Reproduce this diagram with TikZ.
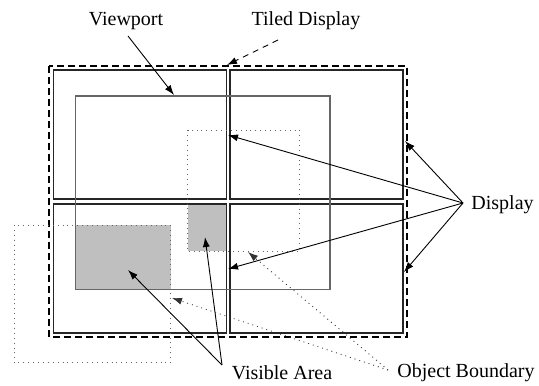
\documentclass[tikz,border=0pt]{standalone}
\usepackage{fontspec}
\setmainfont{Liberation Serif}
\usetikzlibrary{arrows.meta}
\begin{document}
\begin{tikzpicture}[x=0.5pt,y=-0.5pt,
  tile/.style={draw=black!85,line width=0.75pt},
  viewrect/.style={draw=black!60,line width=0.55pt},
  objrect/.style={draw=black!60,line width=0.45pt,dotted},
  visarea/.style={fill=black!25},
  tiled/.style={draw=black,line width=0.7pt,dash pattern=on 3.5pt off 2pt},
  lbl/.style={font=\fontsize{10}{12}\selectfont,inner sep=0pt},
  arr/.style={-{Latex[length=5pt,width=3.5pt]},line width=0.45pt},
  darr/.style={arr,dash pattern=on 3pt off 2.5pt},
  oarr/.style={arr,dotted,draw=black!80}]
\useasboundingbox (0,0) rectangle (539,385);
% shaded visible areas
\fill[visarea] (187.5,204) rectangle (226.5,251);
\fill[visarea] (75.5,225) rectangle (170.5,289.3);
% tiled display outline
\draw[tiled] (49,66) rectangle (407,337);
% displays
\draw[tile] (53.5,70) rectangle (226.5,199);
\draw[tile] (230,70) rectangle (403,199);
\draw[tile] (53.5,204) rectangle (226.5,333);
\draw[tile] (230,204) rectangle (403,333);
% viewport
\draw[viewrect] (75.5,96) rectangle (330,289.3);
% object boundaries
\draw[objrect] (187.5,130) rectangle (299.3,251);
\draw[objrect] (14,225) rectangle (170.5,362.7);
% labels
\node[lbl] (vp) at (126,21) {Viewport};
\node[lbl] (td) at (306,21) {Tiled Display};
\node[lbl,anchor=west] (disp) at (471,205) {Display};
\node[lbl] (vis) at (282,373) {Visible Area};
\node[lbl] (ob) at (466,373) {Object Boundary};
% anchor points
\coordinate (vpS) at (128,36);
\coordinate (vpT) at (174,95);
\coordinate (tdS) at (278,40);
\coordinate (tdT) at (227,65);
\coordinate (dP) at (463,203);
\coordinate (d1) at (228,135);
\coordinate (d2) at (405,141);
\coordinate (d3) at (404,272);
\coordinate (d4) at (228,269);
\coordinate (vP) at (222,365);
\coordinate (v1) at (128,270);
\coordinate (v2) at (205,237);
\coordinate (oP) at (388,370);
\coordinate (o1) at (172,298);
\coordinate (o2) at (248,252);
% connectors
\draw[arr] (vpS) -- (vpT);
\draw[darr] (tdS) -- (tdT);
\draw[arr] (dP) -- (d1);
\draw[arr] (dP) -- (d2);
\draw[arr] (dP) -- (d3);
\draw[arr] (dP) -- (d4);
\draw[arr] (vP) -- (v1);
\draw[arr] (vP) -- (v2);
\draw[oarr] (oP) -- (o1);
\draw[oarr] (oP) -- (o2);
\end{tikzpicture}
\end{document}
